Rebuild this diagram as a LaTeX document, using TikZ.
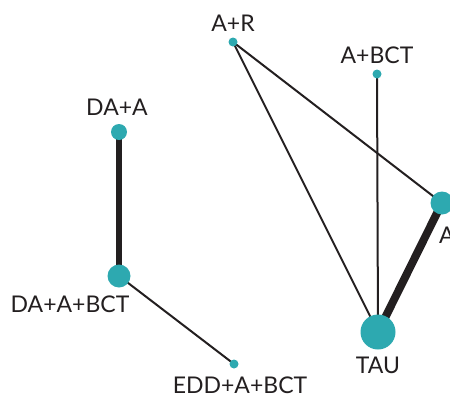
\documentclass[tikz,border=0pt]{standalone}
\usepackage{fontspec}
\setmainfont{Lato}
\usetikzlibrary{backgrounds}
\definecolor{dotcol}{HTML}{2DA9B0}
\definecolor{inkcol}{HTML}{231F20}
\begin{document}
\begin{tikzpicture}[x=1pt,y=-1pt,line join=round,font=\fontsize{23}{26}\selectfont,
    trt/.style={circle,fill=dotcol,inner sep=0pt,minimum size=#1},
    txt/.style={text=inkcol,inner sep=0pt},
    thin/.style={draw=inkcol,line width=2pt},
    fat/.style={draw=inkcol,line width=#1}]
    \useasboundingbox (0,0) rectangle (450,394);
    \node[trt=9pt] (ar) at (233,42) {};
    \node[trt=9pt] (abct) at (377,74) {};
    \node[trt=16pt] (daa) at (119,132) {};
    \node[trt=23pt] (daabct) at (119,276) {};
    \node[trt=9pt] (edd) at (234,364) {};
    \node[trt=35pt] (tau) at (378,332) {};
    \node[trt=23pt] (a) at (442,203) {};

    \node[txt] (arL) at (233,23) {A+R};
    \node[txt] (abctL) at (377,55) {A+BCT};
    \node[txt] (daaL) at (117,107) {DA+A};
    \node[txt] (daabctL) at (70,304) {DA+A+BCT};
    \node[txt] (eddL) at (240,385) {EDD+A+BCT};
    \node[txt] (tauL) at (378,365) {TAU};
    \node[txt,anchor=west] (aL) at (439,235) {A};

    \begin{pgfonlayer}{background}
        \draw[thin] (ar.center)--(tau.center);
        \draw[thin] (ar.center)--(a.center);
        \draw[thin] (abct.center)--(tau.center);
        \draw[fat=8pt] (a.center)--(tau.center);
        \draw[fat=6pt] (daa.center)--(daabct.center);
        \draw[thin] (daabct.center)--(edd.center);
    \end{pgfonlayer}
\end{tikzpicture}
\end{document}
